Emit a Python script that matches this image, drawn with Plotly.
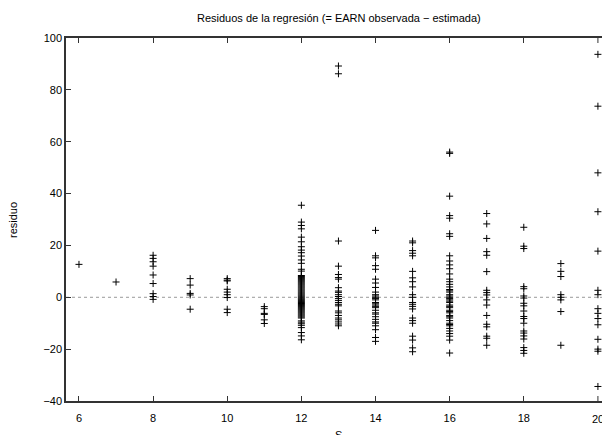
import plotly.graph_objects as go

# Residuals of the regression, grouped by years of schooling S
res_6 = [12.7]
res_7 = [5.9]
res_8 = [16.2, 15.0, 13.7, 12.0, 8.6, 5.3, 1.4, 0.3, -0.8]
res_9 = [7.2, 4.7, 1.5, 0.9, -4.6]
res_10 = [7.2, 6.6, 6.3, 3.1, 2.0, 1.0, -0.1, -4.6, -5.9]
res_11 = [-3.6, -4.4, -6.2, -6.6, -8.7, -10.1]
res_12 = [35.5, 29.0, 27.7, 26.4, 23.2, 21.4, 19.5, 18.2, 17.2, 15.9, 14.4, 13.1,
          10.8, 10.1, 8.4, 8.0, 7.6, 7.2, 6.8, 6.4, 6.0, 5.6, 5.2, 4.8, 4.4, 4.0,
          3.6, 3.2, 2.8, 2.4, 2.0, 1.6, 1.2, 0.8, 0.4, 0.0, -0.4, -0.8, -1.2, -1.6,
          -2.0, -2.4, -2.8, -3.2, -3.6, -4.0, -4.4, -4.8, -5.2, -5.6, -6.0, -6.4,
          -6.8, -7.2, -7.6, -8.0, -9.1, -9.6, -10.2, -10.8, -11.7, -13.6, -14.9, -16.4]
res_13 = [89.2, 86.2, 21.7, 12.0, 8.8, 7.6, 7.0, 3.7, 2.4, 1.9, 1.0, 0.3, -0.5, -1.2,
          -2.0, -2.7, -3.3, -5.3, -6.0, -7.0, -8.0, -8.7, -9.5, -10.3, -11.0]
res_14 = [25.8, 16.0, 15.2, 12.2, 10.8, 7.0, 5.5, 3.8, 2.0, 1.0, 0.5, 0.0, -0.5, -1.0,
          -2.0, -2.5, -3.0, -3.5, -4.0, -5.0, -6.0, -6.5, -7.5, -8.5, -9.5, -10.0,
          -11.0, -12.5, -15.5, -17.0]
res_15 = [21.7, 21.0, 18.0, 17.0, 16.0, 10.0, 7.5, 6.0, 4.0, 1.0, 0.0, -2.0, -2.7,
          -3.5, -4.5, -8.0, -9.0, -10.0, -15.0, -16.5, -19.5, -21.0]
res_16 = [56.0, 55.5, 39.0, 31.5, 30.5, 24.5, 23.5, 16.0, 14.0, 12.5, 11.0, 9.0, 7.0,
          6.0, 5.0, 4.0, 3.0, 2.5, 2.0, 1.0, 0.5, 0.0, -0.5, -1.0, -1.5, -2.0, -3.0,
          -3.5, -4.0, -5.0, -5.5, -6.0, -7.0, -7.5, -8.0, -9.0, -10.0, -10.5, -11.0,
          -12.0, -13.0, -14.0, -15.0, -16.5, -21.5]
res_17 = [32.3, 28.3, 22.7, 17.6, 16.2, 9.9, 2.7, 1.8, 0.9, -1.0, -3.0, -7.0, -10.4,
          -11.4, -15.0, -15.8, -18.5]
res_18 = [27.0, 19.7, 18.8, 4.1, 3.3, 0.5, -0.3, -2.3, -3.3, -5.3, -7.4, -8.2, -10.0,
          -13.0, -13.8, -14.9, -16.1, -19.4, -20.5, -21.6]
res_19 = [13.0, 10.0, 8.0, 1.0, 0.0, -1.0, -5.5, -18.5]
res_20 = [93.7, 73.7, 48.0, 33.0, 17.8, 2.7, 1.0, -4.4, -6.2, -8.2, -10.6, -16.2,
          -20.0, -20.8, -34.4]

s_levels = [6, 7, 8, 9, 10, 11, 12, 13, 14, 15, 16, 17, 18, 19, 20]
residuals = [res_6, res_7, res_8, res_9, res_10, res_11, res_12, res_13, res_14,
             res_15, res_16, res_17, res_18, res_19, res_20]

x_ticks = [6, 8, 10, 12, 14, 16, 18, 20]
y_ticks = [-40, -20, 0, 20, 40, 60, 80, 100]

xs, ys = [], []
for s, vals in zip(s_levels, residuals):
    for v in vals:
        xs.append(s)
        ys.append(v)

FONT = "Liberation Sans, Arial, sans-serif"
W, H = 602, 435
ML, MR, MT, MB = 66, 0, 38, 34
XR = [5.65, 20.11]

fig = go.Figure()
fig.add_trace(go.Scatter(
    x=xs, y=ys, mode="markers",
    marker=dict(symbol="cross-thin", size=5, color="black",
                line=dict(width=1, color="black")),
    hoverinfo="skip", showlegend=False, cliponaxis=False,
))

# dotted zero line
fig.add_shape(type="line", xref="paper", yref="y", x0=0, x1=1, y0=0, y1=0,
              line=dict(color="#999999", width=1, dash="dot"), layer="below")

fig.update_layout(
    width=W, height=H,
    margin=dict(l=ML, r=MR, t=MT, b=MB),
    paper_bgcolor="white", plot_bgcolor="white",
    font=dict(family=FONT, size=11, color="black"),
    showlegend=False,
)
fig.update_xaxes(range=XR, tickvals=x_ticks[:-1], ticks="inside", ticklen=5,
                 tickcolor="#333333", tickwidth=1, showline=True, linecolor="#333333",
                 linewidth=1.5, mirror="ticks", showgrid=False, zeroline=False,
                 ticklabelstandoff=6,
                 tickfont=dict(family=FONT, size=11, color="black"))
fig.update_yaxes(range=[-40, 100], tickvals=y_ticks,
                 ticktext=[("\u2212" + str(-v)) if v < 0 else str(v) for v in y_ticks],
                 ticks="inside", ticklen=5, tickcolor="#333333", tickwidth=1,
                 showline=True, linecolor="#333333", linewidth=1.5, mirror=False,
                 showgrid=False, zeroline=False,
                 tickfont=dict(family=FONT, size=11, color="black"))

pw = W - ML - MR
def px_to_paper_x(px):
    return (px - ML) / pw

ph = H - MT - MB
def px_to_paper_y(py):
    return (H - MB - py) / ph

# last tick (20) sits at the clipped right edge: draw its tick marks and label
for yv, ay in ((-40, 1), (100, -1)):
    pass
fig.add_shape(type="line", xref="x", yref="paper", x0=x_ticks[-1], x1=x_ticks[-1],
              y0=0, y1=5 / ph, line=dict(color="#333333", width=1))
fig.add_shape(type="line", xref="x", yref="paper", x0=x_ticks[-1], x1=x_ticks[-1],
              y0=1 - 5 / ph, y1=1, line=dict(color="#333333", width=1))
fig.add_annotation(text=str(x_ticks[-1]), xref="x", yref="paper", x=x_ticks[-1],
                   y=px_to_paper_y(419), xanchor="center", yanchor="middle",
                   showarrow=False, font=dict(family=FONT, size=11, color="black"))

fig.add_annotation(text="Residuos de la regresión (= EARN observada \u2212 estimada)",
                   xref="paper", yref="paper", x=px_to_paper_x(339), y=px_to_paper_y(18),
                   xanchor="center", yanchor="middle", showarrow=False,
                   font=dict(family=FONT, size=11, color="black"))
fig.add_annotation(text="S", xref="paper", yref="paper",
                   x=px_to_paper_x(338), y=px_to_paper_y(435),
                   xanchor="center", yanchor="middle", showarrow=False,
                   font=dict(family=FONT, size=11, color="black"))
fig.add_annotation(text="residuo", xref="paper", yref="paper",
                   x=px_to_paper_x(13), y=px_to_paper_y(220), textangle=-90,
                   xanchor="center", yanchor="middle", showarrow=False,
                   font=dict(family=FONT, size=11, color="black"))

fig.write_html("out.html")
